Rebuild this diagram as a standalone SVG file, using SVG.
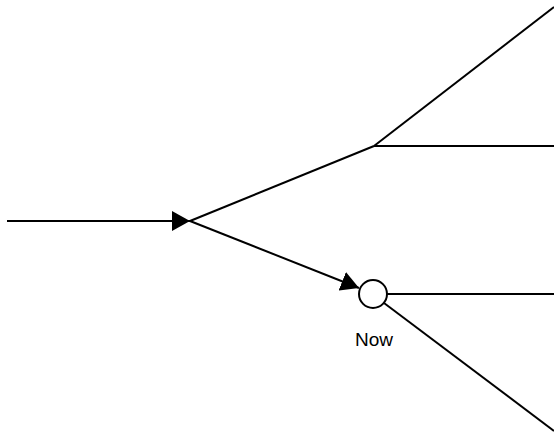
<svg xmlns="http://www.w3.org/2000/svg" width="554" height="435" viewBox="0 0 554 435">
<style>
.ln{stroke:#000;stroke-width:2;fill:none}
.nd{stroke:#000;stroke-width:2;fill:#fff}
.lb{font-family:"Liberation Sans",Arial,sans-serif;font-size:19px;fill:#000;text-anchor:middle}
</style>
<defs>
<marker id="ah" markerWidth="18" markerHeight="20" refX="18" refY="10" orient="auto" markerUnits="userSpaceOnUse">
<path d="M0,0 L18,10 L0,20 Z" fill="#000"/>
</marker>
</defs>
<g id="connectors">
<line class="ln" x1="7" y1="221" x2="190" y2="221" marker-end="url(#ah)"/>
<line class="ln" x1="190" y1="221" x2="374" y2="146"/>
<line class="ln" x1="374" y1="146" x2="554" y2="7"/>
<line class="ln" x1="374" y1="146" x2="554" y2="146"/>
<line class="ln" x1="190" y1="221" x2="359" y2="288" marker-end="url(#ah)"/>
<line class="ln" x1="387" y1="294" x2="554" y2="294"/>
<line class="ln" x1="384" y1="303" x2="554" y2="431"/>
</g>
<g id="now">
<circle class="nd" cx="373" cy="294" r="14"/>
<text class="lb" x="374" y="346">Now</text>
</g>
</svg>
